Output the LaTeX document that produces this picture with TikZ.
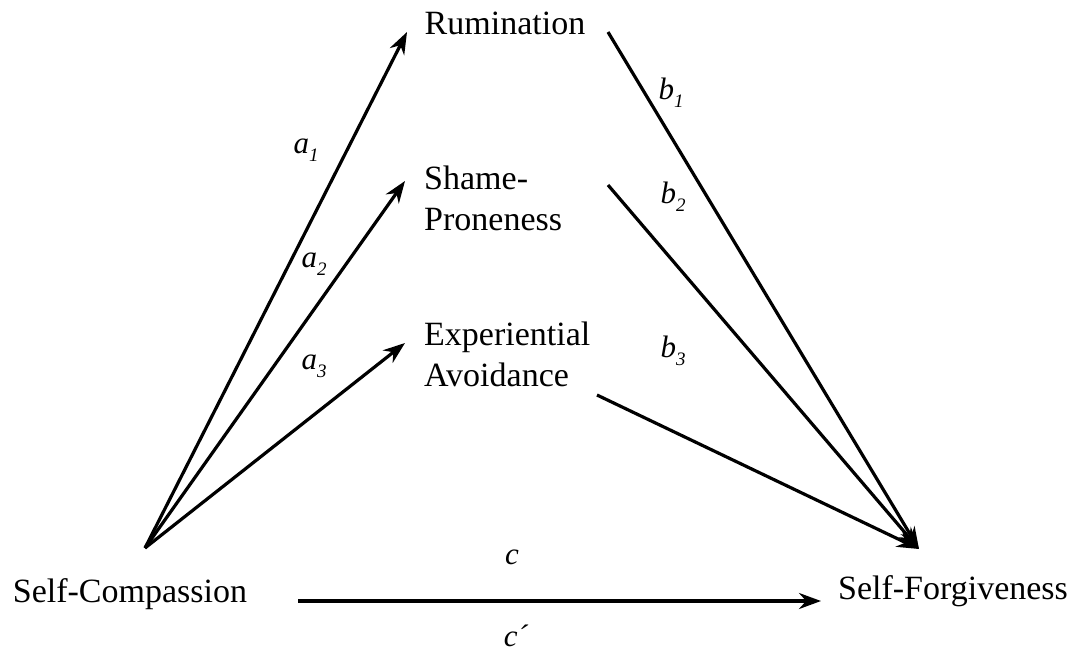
\documentclass[tikz,border=0pt]{standalone}
\usepackage{fontspec}
\setmainfont{Liberation Serif}
\usetikzlibrary{arrows.meta}
\newcommand{\lbl}[2]{\itshape #1\raisebox{-0.25em}{\fontsize{19}{19}\selectfont #2}}
\begin{document}
\begin{tikzpicture}[x=1pt,y=-1pt,
  var/.style={inner sep=0pt,font=\fontsize{34}{41}\selectfont},
  varl/.style={var,anchor=west,align=left},
  path/.style={line width=3.2pt,-{Stealth[length=22pt,width=16pt]}},
  coef/.style={inner sep=0pt,font=\fontsize{31}{34}\selectfont}]
\useasboundingbox (0,0) rectangle (1072,654);
% variables
\node[var] (rum) at (505,23) {Rumination};
\node[varl] (sha) at (424,198) {Shame-\\Proneness};
\node[varl] (exp) at (424,354) {Experiential\\Avoidance};
\node[var] (sc) at (130,594) {Self-Compassion};
\node[var] (sf) at (953,591) {Self-Forgiveness};
% connector end points
\coordinate (scTop) at (145,548);
\coordinate (sfTop) at (919,549);
\coordinate (rumIn) at (407,32);
\coordinate (shaIn) at (405,181);
\coordinate (expIn) at (405,343);
\coordinate (rumOut) at (608,32);
\coordinate (shaOut) at (608,185);
\coordinate (expOut) at (597,395);
\coordinate (cStart) at (298,601);
\coordinate (cEnd) at (821,601);
% paths
\draw[path] (scTop) -- (rumIn);
\draw[path] (scTop) -- (shaIn);
\draw[path] (scTop) -- (expIn);
\draw[path] (rumOut) -- (sfTop);
\draw[path] (shaOut) -- (sfTop);
\draw[path] (expOut) -- (sfTop);
\draw[path] (cStart) -- (cEnd);
% coefficients
\node[coef] (la1) at (306,150) {\lbl{a}{1}};
\node[coef] (la2) at (314,264) {\lbl{a}{2}};
\node[coef] (la3) at (314,366) {\lbl{a}{3}};
\node[coef] (lb1) at (671,93) {\lbl{b}{1}};
\node[coef] (lb2) at (673,197) {\lbl{b}{2}};
\node[coef] (lb3) at (673,351) {\lbl{b}{3}};
\node[coef] (lc) at (512,557) {\itshape c};
\node[coef] (lcp) at (516,636) {\itshape c´};
\end{tikzpicture}
\end{document}
